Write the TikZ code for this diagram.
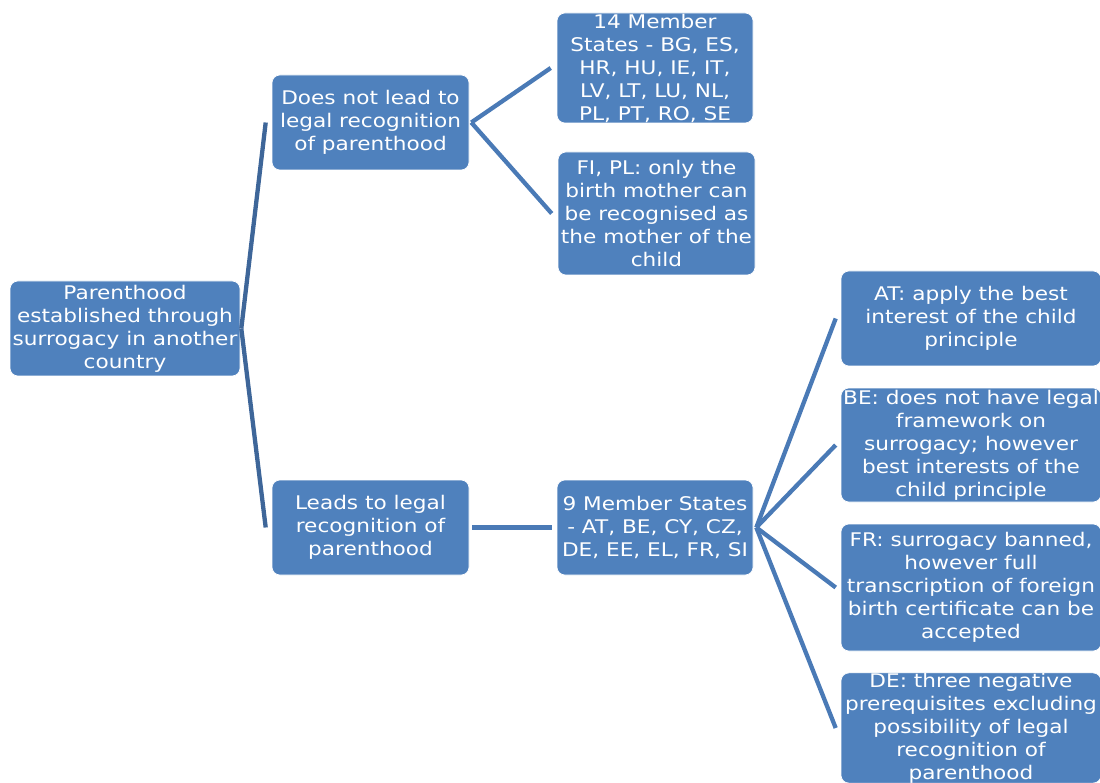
\documentclass[tikz,border=0pt]{standalone}
\usepackage{fontspec}
\setmainfont[FakeStretch=1.15]{DejaVu Sans}
\definecolor{boxblue}{HTML}{4F81BD}
\definecolor{linkblue}{HTML}{4A7AB6}
\definecolor{rootlink}{HTML}{3E6699}
\begin{document}
\begin{tikzpicture}[x=1pt,y=-1pt,
  box/.style={fill=boxblue, draw=white, line width=0.6pt, rounded corners=8pt,
    text=white, align=center, inner sep=0pt,
    font=\fontsize{18.8}{23}\selectfont},
  conn/.style={draw=linkblue, line width=4.3pt},
  rootconn/.style={draw=rootlink, line width=4.3pt}]
\useasboundingbox (0,0) rectangle (1100,783);
\clip (0,0) rectangle (1100,783);

% first level
\node[box, minimum width=230pt, minimum height=95pt] (root) at (125,328.5)
  {Parenthood\\established through\\surrogacy in another\\country};

% second level
\node[box, minimum width=197pt, minimum height=95pt] (no) at (370.5,122.5)
  {Does not lead to\\legal recognition\\of parenthood};
\node[box, minimum width=197pt, minimum height=95pt] (yes) at (370.5,527.5)
  {Leads to legal\\recognition of\\parenthood};

% third level
\node[box, minimum width=196pt, minimum height=110pt] (ms14) at (655,68)
  {14 Member\\States - BG, ES,\\HR, HU, IE, IT,\\LV, LT, LU, NL,\\PL, PT, RO, SE};
\node[box, minimum width=197pt, minimum height=123pt] (fipl) at (656.5,213.5)
  {FI, PL: only the\\birth mother can\\be recognised as\\the mother of the\\child};
\node[box, minimum width=196pt, minimum height=95pt] (ms9) at (655,527.5)
  {9 Member States\\- AT, BE, CY, CZ,\\DE, EE, EL, FR, SI};

% fourth level
\node[box, minimum width=260pt, minimum height=95pt] (at) at (971,318.5)
  {AT: apply the best\\interest of the child\\principle};
\node[box, minimum width=260pt, minimum height=114pt] (be) at (971,445)
  {BE: does not have legal\\framework on\\surrogacy; however\\best interests of the\\child principle};
\node[box, minimum width=260pt, minimum height=127pt] (fr) at (971,587.5)
  {FR: surrogacy banned,\\however full\\transcription of foreign\\birth certificate can be\\accepted};
\node[box, minimum width=260pt, minimum height=110pt] (de) at (971,728)
  {DE: three negative\\prerequisites excluding\\possibility of legal\\recognition of\\parenthood};

% connectors
\draw[rootconn] ([xshift=1pt]root.east) -- ([xshift=-6pt]no.west);
\draw[rootconn] ([xshift=1pt]root.east) -- ([xshift=-6pt]yes.west);
\draw[conn] ([xshift=2pt]no.east) -- ([xshift=-6pt]ms14.west);
\draw[conn] ([xshift=2pt]no.east) -- ([xshift=-6pt]fipl.west);
\draw[conn] ([xshift=3pt]yes.east) -- ([xshift=-5pt]ms9.west);
\foreach \t in {at,be,fr,de}
  \draw[conn] ([xshift=3pt]ms9.east) -- ([xshift=-5pt]\t.west);
\end{tikzpicture}
\end{document}
